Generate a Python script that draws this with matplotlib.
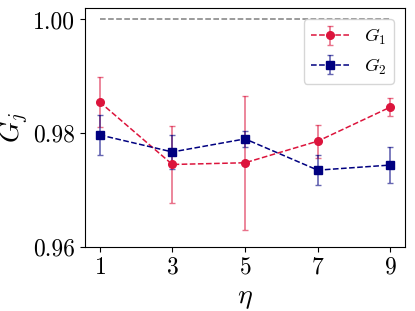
import matplotlib
matplotlib.use('Agg')
import matplotlib.pyplot as plt
import numpy as np

eta = [1, 3, 5, 7, 9]
g1 = [0.9855, 0.9745, 0.9748, 0.9786, 0.9846]
g1_err = [0.0044, 0.0068, 0.0118, 0.0029, 0.0016]
g2 = [0.9797, 0.9767, 0.9790, 0.9735, 0.9744]
g2_err = [0.0035, 0.0030, 0.0014, 0.0026, 0.0032]

plt.rcParams['font.family'] = 'serif'
plt.rcParams['font.serif'] = ['cmr10', 'DejaVu Serif']
plt.rcParams['mathtext.fontset'] = 'cm'
plt.rcParams['axes.formatter.use_mathtext'] = True

fig = plt.figure(figsize=(4.15, 3.11), dpi=100)
ax = fig.add_axes([0.205, 0.206, 0.771, 0.768])

ax.plot(eta, [1.0] * len(eta), '--', color='gray', lw=1.1)
ax.errorbar(eta, g1, yerr=g1_err, fmt='o--', color='crimson', ecolor=(0.86, 0.08, 0.24, 0.6),
            capsize=2, ms=5.5, lw=1.1, elinewidth=1.2, label='$G_1$')
ax.errorbar(eta, g2, yerr=g2_err, fmt='s--', color='navy', ecolor=(0, 0, 0.5, 0.6),
            capsize=2, ms=5.5, lw=1.1, elinewidth=1.2, label='$G_2$')

ax.set_xticks(eta)
ax.set_yticks([0.96, 0.98, 1.00])
ax.set_yticklabels(['0.96', '0.98', '1.00'])
ax.set_ylim(0.96, 1.002)
ax.tick_params(labelsize=17)
ax.set_xlabel(r'$\eta$', fontsize=20)
ax.set_ylabel(r'$G_j$', fontsize=20, labelpad=2)
ax.legend(loc='upper right', fontsize=13.5, borderaxespad=0.6)

fig.savefig('out.png', dpi=100)
